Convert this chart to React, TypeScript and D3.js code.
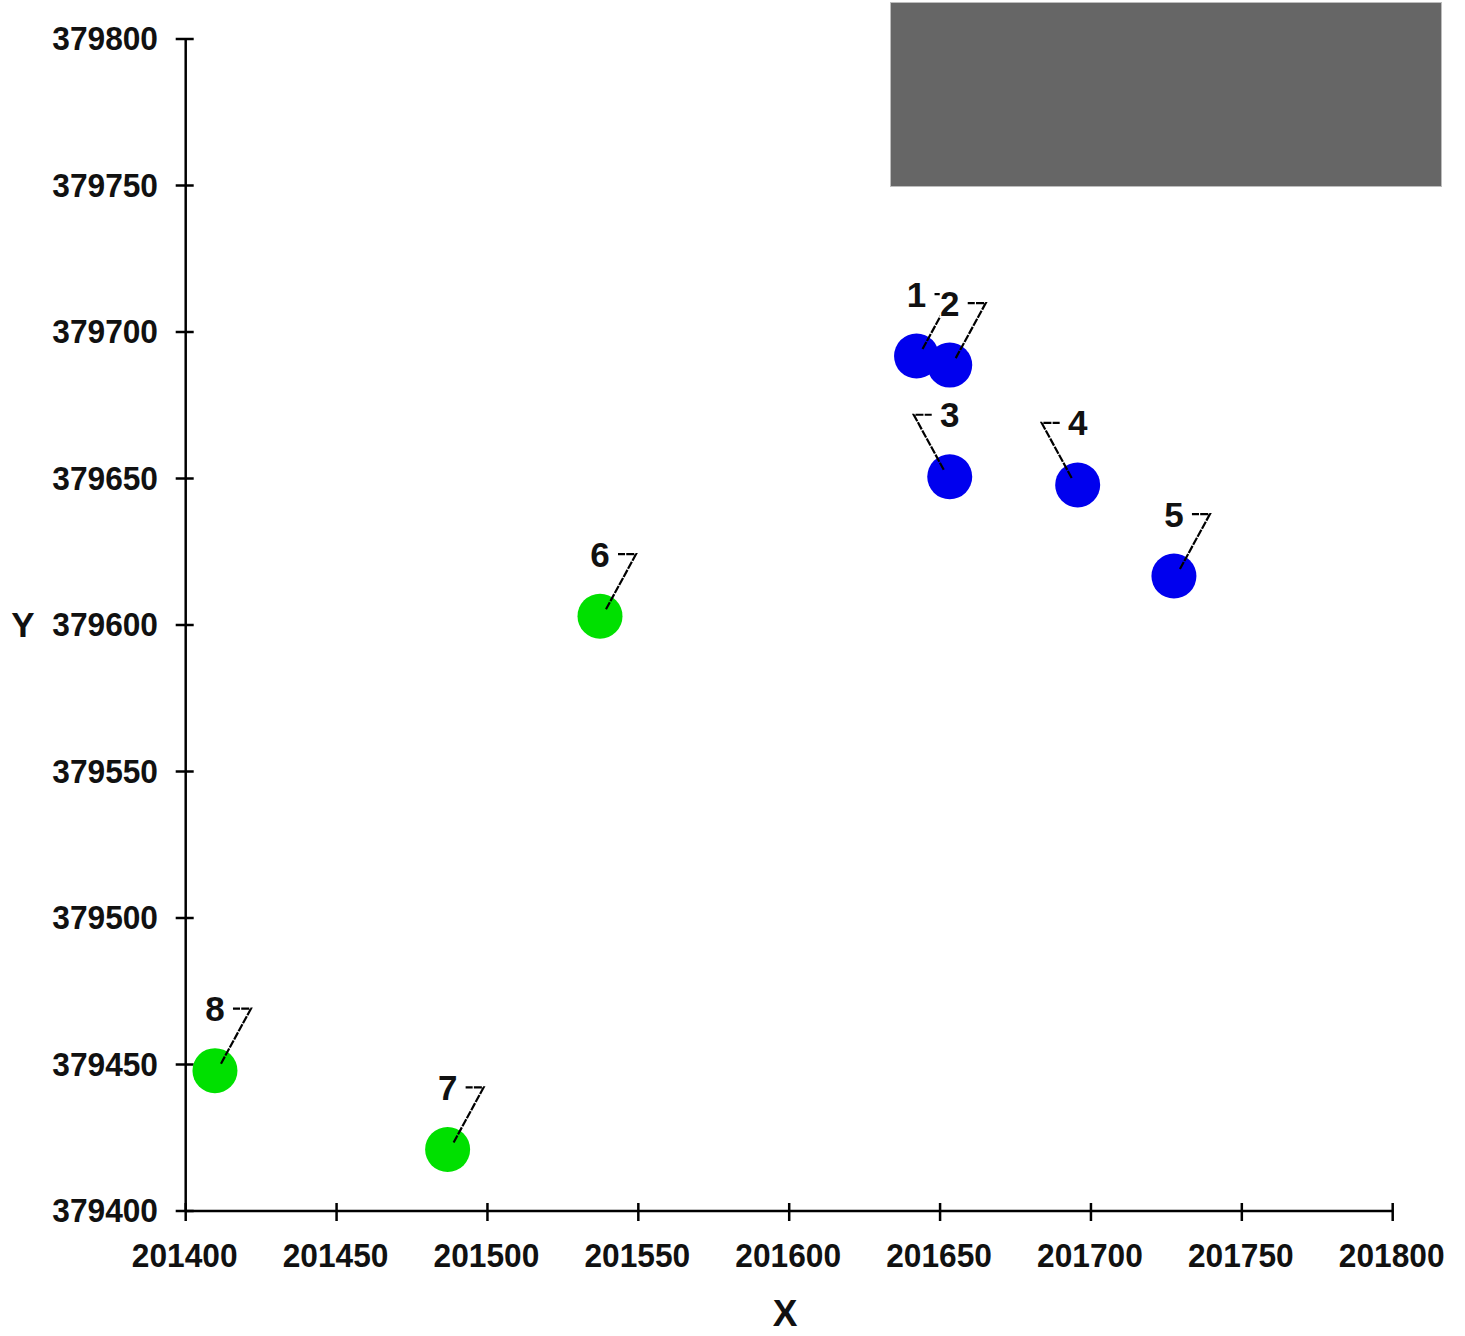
import React from "react";
import * as d3 from "d3";

const pointIds = ["1", "2", "3", "4", "5", "6", "7", "8"];
const xValues = [201642.2, 201653.2, 201653.2, 201695.6, 201727.5, 201537.3, 201486.8, 201409.7];
const yValues = [379691.8, 379688.7, 379650.6, 379647.8, 379616.7, 379603.0, 379421.0, 379447.9];
const groups = ["A", "A", "A", "A", "A", "B", "B", "B"];
const labelSides = ["right", "right", "left", "left", "right", "right", "right", "right"];
const xTicks = [201400, 201450, 201500, 201550, 201600, 201650, 201700, 201750, 201800];
const yTicks = [379400, 379450, 379500, 379550, 379600, 379650, 379700, 379750, 379800];

const W = 1465;
const H = 1336;

export default function App() {
  const x = d3.scaleLinear().domain([201400, 201800]).range([185.7, 1392.7]);
  const y = d3.scaleLinear().domain([379400, 379800]).range([1211, 39]);
  const color = d3.scaleOrdinal<string, string>().domain(["A", "B"]).range(["#0000ee", "#00e000"]);
  const font = "'Liberation Sans', Arial, sans-serif";
  const line = d3.line();

  const pts = pointIds.map((id, i) => ({
    id,
    cx: x(xValues[i]),
    cy: y(yValues[i]),
    g: groups[i],
    side: labelSides[i],
  }));

  return (
    <div style={{ position: "absolute", left: 0, top: 0 }}>
      <svg width={W} height={H} style={{ display: "block", background: "#fff" }}>
        <rect x={890.5} y={2.5} width={551} height={184} fill="#666666" stroke="#bdbdbd" strokeWidth={1} />

        {/* axes */}
        <line x1={x(201400)} x2={x(201800)} y1={y(379400)} y2={y(379400)} stroke="#000" strokeWidth={2.5} />
        <line x1={x(201400)} x2={x(201400)} y1={y(379400)} y2={y(379800)} stroke="#000" strokeWidth={2.5} />
        {xTicks.map((t) => (
          <g key={"xt" + t}>
            <line x1={x(t)} x2={x(t)} y1={y(379400) - 8} y2={y(379400) + 10} stroke="#000" strokeWidth={2.5} />
            <text x={x(t) - 1} y={1256} textAnchor="middle" dominantBaseline="central" fontFamily={font} fontWeight="bold" fontSize={33} fill="#111"
              transform={`translate(${x(t) - 1},0) scale(0.96,1) translate(${-(x(t) - 1)},0)`}>
              {t}
            </text>
          </g>
        ))}
        {yTicks.map((t) => (
          <g key={"yt" + t}>
            <line x1={x(201400) - 10} x2={x(201400) + 8} y1={y(t)} y2={y(t)} stroke="#000" strokeWidth={2.5} />
            <text x={158} y={y(t)} textAnchor="end" dominantBaseline="central" fontFamily={font} fontWeight="bold" fontSize={33} fill="#111"
              transform="translate(158,0) scale(0.96,1) translate(-158,0)">
              {t}
            </text>
          </g>
        ))}
        <text x={785} y={1313} textAnchor="middle" dominantBaseline="central" fontFamily={font} fontWeight="bold" fontSize={37} fill="#111">X</text>
        <text x={23} y={624} textAnchor="middle" dominantBaseline="central" fontFamily={font} fontWeight="bold" fontSize={35} fill="#111">Y</text>

        {/* points */}
        {pts.map((p) => (
          <circle key={"c" + p.id} cx={p.cx} cy={p.cy} r={22.5} fill={color(p.g)} />
        ))}
        {/* leader lines */}
        {pts.map((p) => {
          const s = p.side === "right" ? 1 : -1;
          const d = line([
            [p.cx + 6 * s, p.cy - 7],
            [p.cx + 36 * s, p.cy - 62],
            [p.cx + 18 * s, p.cy - 62],
          ]);
          return <path key={"l" + p.id} d={d || ""} fill="none" stroke="#000" strokeWidth={2.2} strokeDasharray="8,1.2" />;
        })}
        {/* labels */}
        {pts.map((p) => (
          <g key={"t" + p.id}>
            <rect x={p.cx - 10} y={p.cy - 76} width={20} height={28} fill="#fff" />
            <text x={p.cx} y={p.cy - 62} textAnchor="middle" dominantBaseline="central" fontFamily={font} fontWeight="bold" fontSize={35} fill="#111">
              {p.id}
            </text>
          </g>
        ))}
      </svg>
    </div>
  );
}
